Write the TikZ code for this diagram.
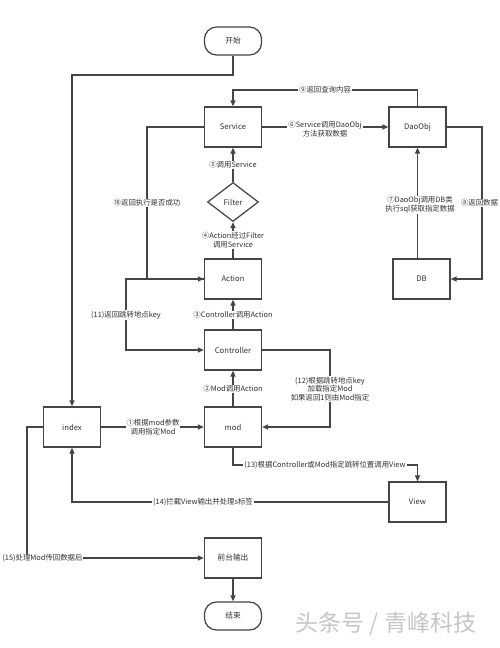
\documentclass[tikz,border=0pt]{standalone}
\usepackage{fontspec}
\setmainfont{Noto Sans CJK SC}
\usetikzlibrary{arrows.meta,shapes.geometric}
\definecolor{ln}{HTML}{454545}
\definecolor{tx}{HTML}{333333}
\begin{document}
\begin{tikzpicture}[x=1pt,y=-1pt,
  every node/.style={text=tx,font=\fontsize{7.7}{9}\selectfont},
  box/.style={draw=ln,line width=1.25pt,minimum width=57pt,minimum height=40pt,inner sep=0pt},
  term/.style={draw=ln,line width=1.25pt,rounded corners=12pt,minimum width=57pt,minimum height=28pt,inner sep=0pt},
  dia/.style={draw=ln,line width=1.25pt,diamond,minimum width=51pt,minimum height=39pt,inner sep=0pt,aspect=1.3},
  conn/.style={draw=ln,line width=1.25pt},
  arr/.style={conn,-{Triangle[length=6pt,width=5pt]}},
  lab/.style={fill=white,inner sep=1pt,align=center,font=\fontsize{7.4}{8.8}\selectfont}
]
\useasboundingbox (0,0) rectangle (500,648);
\fill[white] (0,0) rectangle (500,648);

\node[term] (start) at (233,41) {开始};
\node[box] (service) at (233,127) {Service};
\node[box] (dao) at (417.5,127) {DaoObj};
\node[dia] (filter) at (233,202) {Filter};
\node[box] (action) at (233,279) {Action};
\node[box] (db) at (421.5,279) {DB};
\node[box] (ctrl) at (233,350) {Controller};
\node[box] (index) at (72,427) {index};
\node[box] (mod) at (233,427) {mod};
\node[box] (view) at (417.5,502) {View};
\node[box] (front) at (233,558) {前台输出};
\node[term] (end) at (233,616) {结束};

\coordinate (c1) at (233,75);
\coordinate (c2) at (72,75);
\draw[arr] (start.south) -- (c1) -- (c2) -- (index.north);

% 9
\coordinate (c9a) at (417.5,90);
\coordinate (c9b) at (233,90);
\draw[arr] (dao.north) -- (c9a) -- (c9b) -- (service.north);
\node[lab] (l9) at (325,90) {⑨返回查询内容};

% 6
\draw[arr] (service.east) -- (dao.west);
\node[lab] (l6) at (325,129) {⑥Service调用DaoObj\\方法获取数据};

% 7
\draw[arr] (db.north -| dao.south) -- (dao.south);
\node[lab] (l7) at (420,205) {⑦DaoObj调用DB类\\执行sql获取指定数据};

% 8
\coordinate (c8a) at (482,127);
\coordinate (c8b) at (482,279);
\draw[arr] (dao.east) -- (c8a) -- (c8b) -- (db.east);
\node[lab,inner sep=0.5pt] (l8) at (479.5,203) {⑧返回数据};

% 5,4,3,2
\draw[arr] (filter.north) -- (service.south);
\node[lab] (l5) at (233,165) {⑤调用Service};
\draw[arr] (action.north) -- (filter.south);
\node[lab] (l4) at (233,240) {④Action经过Filter\\调用Service};
\draw[arr] (ctrl.north) -- (action.south);
\node[lab] (l3) at (233,315) {③Controller调用Action};
\draw[arr] (mod.north) -- (ctrl.south);
\node[lab] (l2) at (233,389) {②Mod调用Action};

% 10
\coordinate (c10a) at (147,127);
\coordinate (c10b) at (147,279);
\draw[arr] (service.west) -- (c10a) -- (c10b) -- (action.west);
\node[lab] (l10) at (147,203) {⑩返回执行是否成功};

% 11
\coordinate (c11a) at (126,279);
\coordinate (c11b) at (126,350);
\draw[arr] (action.west) -- (c11a) -- (c11b) -- (ctrl.west);
\node[lab] (l11) at (126,315) {(11)返回跳转地点key};

% 12
\coordinate (c12a) at (330,350);
\coordinate (c12b) at (330,427);
\draw[arr] (ctrl.east) -- (c12a) -- (c12b) -- (mod.east);
\node[lab] (l12) at (330,389) {(12)根据跳转地点key\\加载指定Mod\\如果返回1则由Mod指定};

% 1
\draw[arr] (index.east) -- (mod.west);
\node[lab] (l1) at (153,427) {①根据mod参数\\调用指定Mod};

% 13
\coordinate (c13a) at (233,465);
\coordinate (c13b) at (417.5,465);
\draw[arr] (mod.south) -- (c13a) -- (c13b) -- (view.north);
\node[lab] (l13) at (325,465) {(13)根据Controller或Mod指定跳转位置调用View};

% 14
\coordinate (c14) at (72,502);
\draw[arr] (view.west) -- (c14) -- (index.south);
\node[lab] (l14) at (203,502) {(14)拦截View输出并处理s标签};

% 15
\coordinate (c15a) at (27,427);
\coordinate (c15b) at (27,558);
\draw[arr] (index.west) -- (c15a) -- (c15b) -- (front.west);
\node[lab,inner sep=0.5pt] (l15) at (42.5,558) {(15)处理Mod传回数据后};

\draw[arr] (front.south) -- (end.north);

\node[text=gray!45,font=\fontsize{23}{26}\selectfont,inner sep=0pt] (wm) at (386,624) {头条号 / 青峰科技};
\end{tikzpicture}
\end{document}
